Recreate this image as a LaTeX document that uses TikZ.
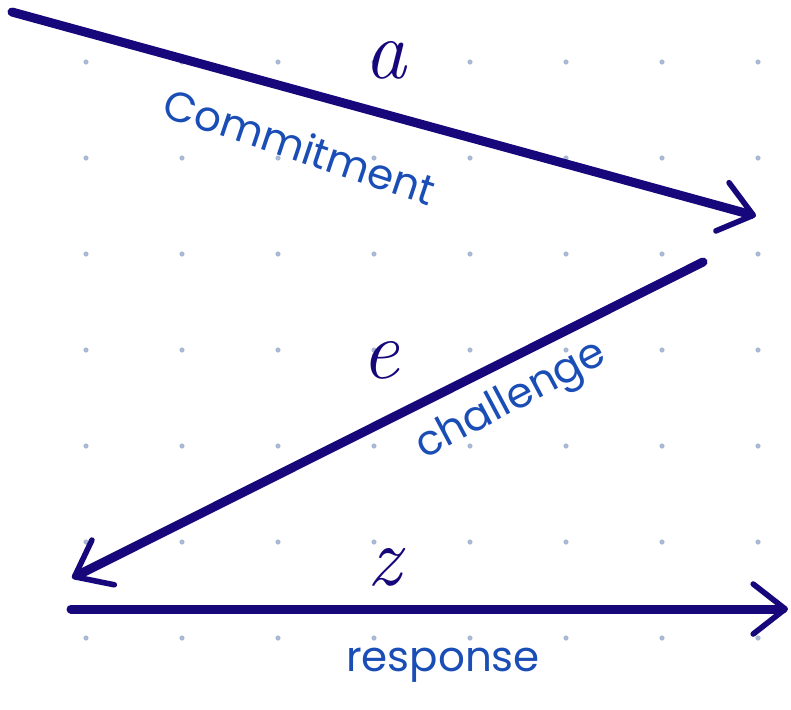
\documentclass[tikz,border=0pt]{standalone}
\usepackage{fontspec}
\usepackage{tikz}
\usetikzlibrary{arrows.meta}
\newfontfamily\hand{Poppins}
\definecolor{ink}{HTML}{16087A}
\definecolor{pen}{HTML}{1A4DB5}
\definecolor{paper}{HTML}{A9B8D4}

\begin{document}
\begin{tikzpicture}[x=0.5pt,y=-0.5pt,
  arr/.style={ink,line width=4.5pt,line cap=round,-{Straight Barb[length=16pt,width=25pt,line width=2.8pt,round]}},
  sym/.style={ink,font=\itshape\fontsize{42}{42}\selectfont,inner sep=0pt},
  lbl/.style={pen,font=\hand\fontsize{21}{24}\selectfont,inner sep=0pt}]
 \useasboundingbox (0,0) rectangle (791,709);
 % dotted paper
 \foreach \i in {0,...,7}
  \foreach \j in {0,...,6}
   \fill[paper] (86+96*\i,62+96*\j) circle (1.3pt);
 % ends of the three messages
 \coordinate (p1) at (12,12);
 \coordinate (v1) at (756,216);
 \coordinate (v2) at (703,262);
 \coordinate (p2) at (72,578);
 \coordinate (p3) at (71,609);
 \coordinate (v3) at (788,609);
 \draw[arr] (p1) -- (v1);
 \draw[arr] (v2) -- (p2);
 \draw[arr] (p3) -- (v3);
 % labels
 \node[sym] (a) at (385,60) {a};
 \node[sym] (e) at (380,360) {e};
 \node[sym] (z) at (384,567) {z};
 \node[lbl,rotate=-18.5] (com) at (300,146) {Commitment};
 \node[lbl,rotate=28] (cha) at (512,402) {challenge};
 \node[lbl] (res) at (443,665) {response};
\end{tikzpicture}
\end{document}
